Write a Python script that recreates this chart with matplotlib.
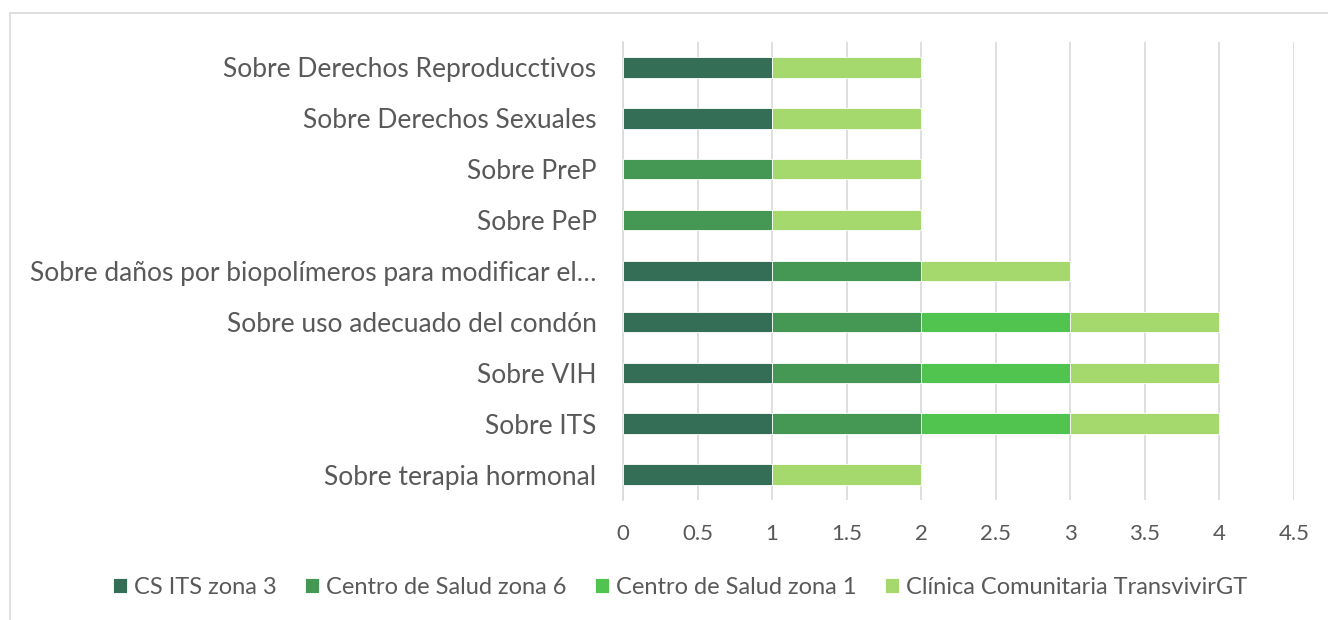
import matplotlib
matplotlib.use("Agg")
import matplotlib.pyplot as plt
from matplotlib.patches import Rectangle
import numpy as np

# categories listed top to bottom, as in the chart
categories = [
    "Sobre Derechos Reproducctivos",
    "Sobre Derechos Sexuales",
    "Sobre PreP",
    "Sobre PeP",
    "Sobre daños por biopolímeros para modificar el…",
    "Sobre uso adecuado del condón",
    "Sobre VIH",
    "Sobre ITS",
    "Sobre terapia hormonal",
]
series_names = [
    "CS ITS zona 3",
    "Centro de Salud zona 6",
    "Centro de Salud zona 1",
    "Clínica Comunitaria TransvivirGT",
]
cs_its_zona3 = [1, 1, 0, 0, 1, 1, 1, 1, 1]
cs_zona6 = [0, 0, 1, 1, 1, 1, 1, 1, 0]
cs_zona1 = [0, 0, 0, 0, 0, 1, 1, 1, 0]
clinica_transvivir = [1, 1, 1, 1, 1, 1, 1, 1, 1]
series_values = [cs_its_zona3, cs_zona6, cs_zona1, clinica_transvivir]
x_ticks = [0, 0.5, 1, 1.5, 2, 2.5, 3, 3.5, 4, 4.5]
x_tick_labels = ["0", "0.5", "1", "1.5", "2", "2.5", "3", "3.5", "4", "4.5"]

colors = ["#346E56", "#459853", "#50C44E", "#A5D96D"]
text_color = "#595959"
grid_color = "#D9D9D9"

plt.rcParams["font.family"] = ["Lato", "DejaVu Sans"]

fig = plt.figure(figsize=(13.28, 6.2), dpi=100)
ax = fig.add_axes([623 / 1328, 1 - 500 / 620, (1294 - 623) / 1328, (500 - 42) / 620])

y = np.arange(len(categories))
left = np.zeros(len(categories))
for name, vals, color in zip(series_names, series_values, colors):
    vals = np.array(vals, dtype=float)
    ax.barh(y, vals, left=left, height=0.4, color=color, label=name,
            edgecolor="white", linewidth=0.6, zorder=3)
    left += vals

ax.set_ylim(len(categories) - 0.5, -0.5)
ax.set_xlim(0, 4.5)
ax.set_yticks(y, categories)
ax.set_xticks(x_ticks, x_tick_labels)
ax.tick_params(axis="y", length=0, pad=19, labelsize=19, labelcolor=text_color)
ax.tick_params(axis="x", length=0, pad=17, labelsize=16, labelcolor=text_color)
ax.grid(True, axis="x", color=grid_color, linewidth=1.2, zorder=0)
for side in ("top", "right", "bottom"):
    ax.spines[side].set_visible(False)
ax.spines["left"].set_color(grid_color)
ax.spines["left"].set_linewidth(1.2)

handles, labels = ax.get_legend_handles_labels()
fig.legend(handles, labels, loc="center", bbox_to_anchor=(680 / 1328, 1 - 587 / 620),
           ncol=4, frameon=False, fontsize=17, labelcolor=text_color,
           handlelength=0.6, handleheight=0.6, handletextpad=0.3, columnspacing=1.2)

# outer chart frame
fig.patches.append(Rectangle((10 / 1328, -0.1), 1.2, 1 - 13 / 620 + 0.1,
                             transform=fig.transFigure, fill=False,
                             edgecolor="#D9D9D9", linewidth=1.2))

fig.savefig("out.png", dpi=100)
